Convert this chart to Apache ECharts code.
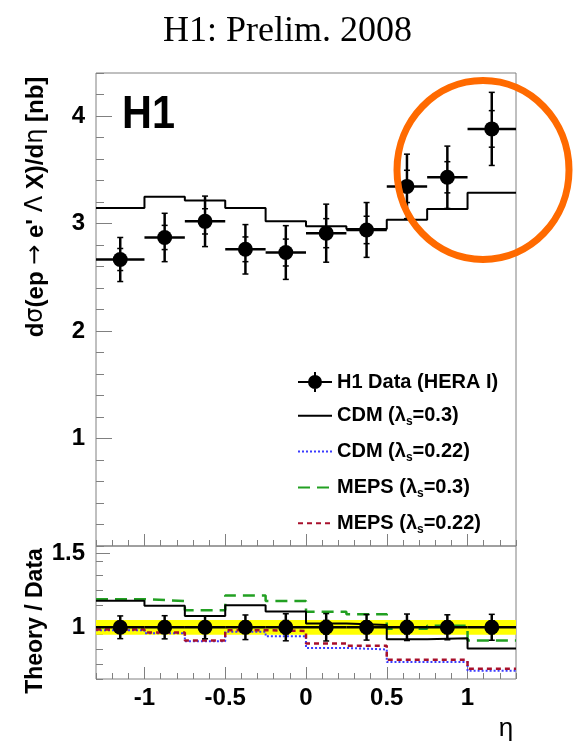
<!DOCTYPE html>
<html>
<head>
<meta charset="utf-8">
<script src="https://cdn.jsdelivr.net/npm/echarts@6/dist/echarts.min.js"></script>
<style>
html,body{margin:0;padding:0;background:#fff;}
#chart{width:575px;height:741px;}
</style>
</head>
<body>
<div id="chart"></div>
<script>
// ---- data ----
const binEdges = [-1.3, -1.0, -0.75, -0.5, -0.25, 0.0, 0.25, 0.5, 0.75, 1.0, 1.3];
const etaCenters = [-1.15, -0.875, -0.625, -0.375, -0.125, 0.125, 0.375, 0.625, 0.875, 1.15];
const dataXsec = [2.665, 2.87, 3.02, 2.76, 2.73, 2.91, 2.94, 3.345, 3.43, 3.88];
const dataErr  = [0.205, 0.225, 0.235, 0.23, 0.25, 0.27, 0.255, 0.30, 0.29, 0.34];
const cdm03Xsec = [3.145, 3.25, 3.215, 3.145, 3.02, 2.975, 2.95, 3.035, 3.135, 3.285];
const ratioCdm03  = [1.18, 1.145, 1.076, 1.149, 1.106, 1.025, 1.016, 0.919, 0.926, 0.856];
const ratioCdm022 = [0.98, 0.96, 0.905, 0.97, 0.94, 0.86, 0.85, 0.765, 0.765, 0.705];
const ratioMeps03 = [1.19, 1.178, 1.115, 1.215, 1.178, 1.105, 1.088, 0.99, 1.01, 0.91];
const ratioMeps022= [0.985, 0.965, 0.91, 0.98, 0.975, 0.89, 0.875, 0.78, 0.78, 0.72];
const normBand = [0.95, 1.05];

const xMajorTicks = [-1, -0.5, 0, 0.5, 1];
const yTopMajorTicks = [1, 2, 3, 4];
const yRatioMajorTicks = [1, 1.5];

const names = {
  data: 'H1 Data (HERA I)',
  cdm03: 'CDM (λs=0.3)',
  cdm022: 'CDM (λs=0.22)',
  meps03: 'MEPS (λs=0.3)',
  meps022: 'MEPS (λs=0.22)'
};

// ---- helpers ----
function minorList(a, b, step, majors) {
  const out = [];
  const n = Math.round((b - a) / step);
  for (let k = 0; k <= n; k++) {
    const v = Math.round((a + k * step) * 1000) / 1000;
    if (!majors.some(m => Math.abs(m - v) < 1e-6)) out.push(v);
  }
  return out;
}
function stepData(vals) {
  const d = vals.map((v, i) => [binEdges[i], v]);
  d.push([binEdges[binEdges.length - 1], vals[vals.length - 1]]);
  return d;
}
function pointData(vals, errs) {
  return vals.map((v, i) => [etaCenters[i], v, errs[i], binEdges[i], binEdges[i + 1]]);
}
const ratioPoints = pointData(dataXsec.map(() => 1), dataErr.map((e, i) => e / dataXsec[i]));

function renderPoint(params, api) {
  const x = api.value(0), y = api.value(1), e = api.value(2);
  const lo = api.value(3), hi = api.value(4);
  const c = api.coord([x, y]);
  const l = api.coord([lo, y]), r = api.coord([hi, y]);
  const t = api.coord([x, y + e]), b = api.coord([x, y - e]);
  const it = api.coord([x, y + e / 2]), ib = api.coord([x, y - e / 2]);
  const st = { stroke: '#000', lineWidth: 2.5 };
  const tk = { stroke: '#000', lineWidth: 1.5 };
  const mk = (p) => ({ type: 'line', shape: { x1: p[0] - 3, y1: p[1], x2: p[0] + 3, y2: p[1] }, style: tk });
  return {
    type: 'group',
    children: [
      { type: 'line', shape: { x1: l[0], y1: l[1], x2: r[0], y2: r[1] }, style: st },
      { type: 'line', shape: { x1: t[0], y1: t[1], x2: b[0], y2: b[1] }, style: st },
      mk(t), mk(b), mk(it), mk(ib),
      { type: 'circle', shape: { cx: c[0], cy: c[1], r: 7.5 }, style: { fill: '#000' } }
    ]
  };
}

const tickColor = '#808080';
const labelFont = { fontFamily: 'Liberation Sans', fontWeight: 'bold', fontSize: 24, color: '#000' };

function xAx(grid, majors, showLabel) {
  return [{
    type: 'value', gridIndex: grid, min: -1.3, max: 1.3, position: 'bottom',
    axisLine: { show: false, onZero: false }, splitLine: { show: false },
    axisTick: { show: true, inside: true, length: 12, customValues: majors, lineStyle: { color: tickColor, width: 1 } },
    axisLabel: Object.assign({ show: showLabel, customValues: majors, margin: 7 }, labelFont)
  }, {
    type: 'value', gridIndex: grid, min: -1.3, max: 1.3, position: 'bottom',
    axisLine: { show: false, onZero: false }, splitLine: { show: false },
    axisTick: { show: true, inside: true, length: 6, customValues: minorList(-1.3, 1.3, 0.1, majors), lineStyle: { color: tickColor, width: 1 } },
    axisLabel: { show: false }
  }];
}
function yAx(grid, min, max, majors, minorStep, majLen, minLen) {
  return [{
    type: 'value', gridIndex: grid, min: min, max: max, position: 'left',
    axisLine: { show: false, onZero: false }, splitLine: { show: false },
    axisTick: { show: true, inside: true, length: majLen, customValues: majors, lineStyle: { color: tickColor, width: 1 } },
    axisLabel: Object.assign({ show: true, customValues: majors, margin: 11 }, labelFont)
  }, {
    type: 'value', gridIndex: grid, min: min, max: max, position: 'left', offset: 0,
    axisLine: { show: false, onZero: false }, splitLine: { show: false },
    axisTick: { show: true, inside: true, length: minLen, customValues: minorList(min, max, minorStep, majors), lineStyle: { color: tickColor, width: 1 } },
    axisLabel: { show: false }
  }];
}

const legendRich = {
  t: { fontFamily: 'Liberation Sans', fontWeight: 'bold', fontSize: 20, color: '#000', lineHeight: 24 },
  s: { fontFamily: 'Liberation Sans', fontWeight: 'bold', fontSize: 12, color: '#000', lineHeight: 24, padding: [12, 0, 0, 0] }
};
const legendFmt = {};
legendFmt[names.data] = '{t|H1 Data (HERA I)}';
legendFmt[names.cdm03] = '{t|CDM (λ}{s|s}{t|=0.3)}';
legendFmt[names.cdm022] = '{t|CDM (λ}{s|s}{t|=0.22)}';
legendFmt[names.meps03] = '{t|MEPS (λ}{s|s}{t|=0.3)}';
legendFmt[names.meps022] = '{t|MEPS (λ}{s|s}{t|=0.22)}';

const dataIcon = 'path://M0,9 L34,9 L34,11 L0,11 Z M16,0 L18,0 L18,20 L16,20 Z M10,10 A7,7 0 1 1 24,10 A7,7 0 1 1 10,10 Z';

const styles = {
  cdm03: { color: '#000', width: 2, type: 'solid' },
  cdm022: { color: '#3b3bff', width: 2, type: [2, 2] },
  meps03: { color: '#22a022', width: 2.5, type: [12, 7] },
  meps022: { color: '#a8102c', width: 2.5, type: [5, 4] }
};
function histSeries(key, vals, xi, yi) {
  const s = styles[key];
  return {
    type: 'line', name: names[key], xAxisIndex: xi, yAxisIndex: yi, step: 'end',
    data: stepData(vals), showSymbol: false, symbol: 'none', z: 3,
    lineStyle: { color: s.color, width: s.width, type: s.type }, itemStyle: { color: s.color },
    clip: true
  };
}

const chart = echarts.init(document.getElementById('chart'), null, { renderer: 'canvas' });
chart.setOption({
  animation: false,
  backgroundColor: '#fff',
  grid: [
    { left: 96, top: 73, width: 420, height: 473, show: true, borderColor: tickColor, borderWidth: 1, containLabel: false },
    { left: 96, top: 546, width: 420, height: 133, show: true, borderColor: tickColor, borderWidth: 1, containLabel: false }
  ],
  xAxis: [].concat(xAx(0, xMajorTicks, false), xAx(1, xMajorTicks, true)),
  yAxis: [].concat(yAx(0, 0, 4.4, yTopMajorTicks, 0.2, 16, 8), yAx(1, 0.65, 1.55, yRatioMajorTicks, 0.1, 14, 7)),
  legend: {
    orient: 'vertical', left: 292, top: 367, itemWidth: 34, itemHeight: 20, itemGap: 11.8,
    itemTextGap: 8,
    selectedMode: false,
    formatter: n => legendFmt[n],
    itemStyle: { color: 'rgba(0,0,0,0)', borderWidth: 0, opacity: 0 },
    textStyle: { rich: legendRich, fontFamily: 'Liberation Sans', fontWeight: 'bold', fontSize: 20, color: '#000' },
    data: [
      { name: names.data, icon: dataIcon, itemStyle: { color: '#000', opacity: 1 } },
      { name: names.cdm03 }, { name: names.cdm022 }, { name: names.meps03 }, { name: names.meps022 }
    ]
  },
  graphic: [
    { type: 'text', left: 'center', top: 14, style: { text: 'H1: Prelim. 2008', font: '36px "Liberation Serif"', fill: '#000' } },
    { type: 'text', x: 122, y: 92, scaleX: 0.9, style: { text: 'H1', font: 'bold 46px "Liberation Sans"', fill: '#000' } },
    { type: 'text', x: 36, y: 207, rotation: Math.PI / 2,
      style: { text: '{b|d}{g|σ}{b|(ep }{g|→}{b| e\' }{g|Λ}{b| X)/d}{g|η}{b| [nb]}', align: 'center', verticalAlign: 'middle',
        rich: { b: { font: 'bold 24px "Liberation Sans"', fill: '#000' }, g: { font: '24px "DejaVu Sans"', fill: '#000' } } } },
    { type: 'text', x: 36, y: 621, rotation: Math.PI / 2,
      style: { text: 'Theory / Data', font: 'bold 23px "Liberation Sans"', fill: '#000', align: 'center', verticalAlign: 'middle' } },
    { type: 'text', x: 506, y: 729, style: { text: 'η', font: '26px "Liberation Sans"', fill: '#000', align: 'center', verticalAlign: 'middle' } },
    { type: 'ellipse', z: 100, shape: { cx: 483, cy: 170, rx: 86, ry: 89.5 }, style: { fill: 'none', stroke: '#ff6a00', lineWidth: 7 } }
  ],
  series: [
    histSeries('cdm03', cdm03Xsec, 0, 0),
    { type: 'custom', name: names.data, xAxisIndex: 0, yAxisIndex: 0, z: 5, itemStyle: { color: '#000' },
      renderItem: renderPoint, data: pointData(dataXsec, dataErr), encode: { x: [0, 3, 4], y: 1 } },
    { type: 'custom', name: 'band', xAxisIndex: 2, yAxisIndex: 2, z: 1, silent: true,
      renderItem: function (params, api) {
        const a = api.coord([binEdges[0], normBand[1]]);
        const b = api.coord([binEdges[binEdges.length - 1], normBand[0]]);
        return { type: 'rect', shape: { x: a[0], y: a[1], width: b[0] - a[0], height: b[1] - a[1] }, style: { fill: '#ffff00' } };
      },
      data: [[normBand[0], normBand[1]]] },
    histSeries('meps03', ratioMeps03, 2, 2),
    histSeries('cdm03', ratioCdm03, 2, 2),
    histSeries('cdm022', ratioCdm022, 2, 2),
    histSeries('meps022', ratioMeps022, 2, 2),
    { type: 'custom', name: names.data, xAxisIndex: 2, yAxisIndex: 2, z: 5, itemStyle: { color: '#000' },
      renderItem: renderPoint, data: ratioPoints, encode: { x: [0, 3, 4], y: 1 } }
  ]
});
</script>
</body>
</html>
